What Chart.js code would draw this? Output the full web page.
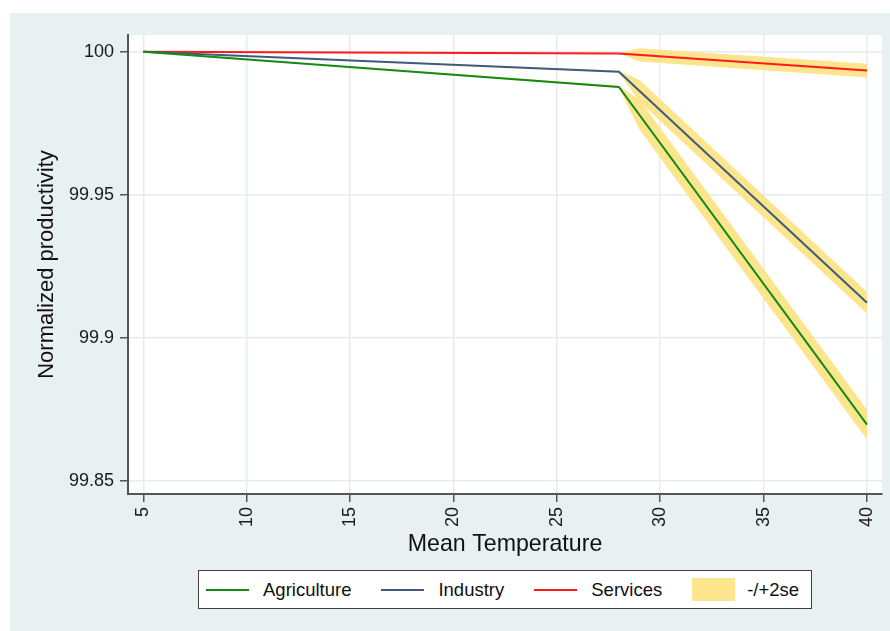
<!DOCTYPE html>
<html>
<head>
<meta charset="utf-8">
<script src="https://cdn.jsdelivr.net/npm/chart.js@4/dist/chart.umd.min.js"></script>
<style>
  html, body { margin: 0; padding: 0; background: #ffffff; }
  #wrap { position: relative; width: 890px; height: 631px; }
  #c { position: absolute; left: 0; top: 0; }
  #legend {
    position: absolute; left: 198px; top: 570px; width: 614px; height: 39px;
    box-sizing: border-box; border: 1.5px solid #404040; background: #ffffff;
    display: flex; align-items: center; padding-left: 7px; gap: 30px;
    font-family: "Liberation Sans", Arial, sans-serif; font-size: 18.5px; color: #111111;
  }
  .item { display: flex; align-items: center; }
  .key { width: 43px; margin-right: 14px; }
  .key.line { height: 2px; }
  .key.area { height: 23px; margin-right: 12px; }
</style>
</head>
<body>
<div id="wrap">
  <canvas id="c" width="890" height="631"></canvas>
  <div id="legend"></div>
</div>
<script>
// Mean temperature (°C) at the start, the kink and the end of each response curve
const lineTemps = [5, 28, 40];
const agriculture = [100, 99.9877, 99.8696];
const industry = [100, 99.9930, 99.9122];
const services = [100, 99.9994, 99.9934];

// -/+2se confidence band, evaluated at these temperatures
const bandTemps = [5, 28, 29, 40];
const agricultureUpper = [100, 99.9881, 99.9831, 99.8748];
const agricultureLower = [100, 99.9873, 99.9727, 99.8644];
const industryUpper = [100, 99.9933, 99.9901, 99.9160];
const industryLower = [100, 99.9927, 99.9825, 99.9084];
const servicesUpper = [100, 99.9994, 100.0012, 99.9958];
const servicesLower = [100, 99.9994, 99.9966, 99.9910];

// Axis ticks
const xTicks = [5, 10, 15, 20, 25, 30, 35, 40];
const yTicks = [99.85, 99.9, 99.95, 100];

const seriesNames = ['Agriculture', 'Industry', 'Services'];
const seriesColors = ['#138a13', '#3f5b7b', '#ff1a1a'];
const bandName = '-/+2se';
const bandColor = '#fce58c';

const pts = (xs, ys) => xs.map((x, i) => ({ x: x, y: ys[i] }));

Chart.defaults.font.family = '"Liberation Sans", Arial, sans-serif';
Chart.defaults.color = '#1a1a1a';

const lineSet = (label, values, color) => ({
  label: label,
  data: pts(lineTemps, values),
  borderColor: color,
  borderWidth: 2,
  pointRadius: 0,
  fill: false,
  order: 0
});
const bandSet = (values, fillTarget) => ({
  label: bandName,
  data: pts(bandTemps, values),
  borderColor: 'rgba(0,0,0,0)',
  backgroundColor: bandColor,
  borderWidth: 0,
  pointRadius: 0,
  fill: fillTarget,
  order: 1
});

const datasets = [
  lineSet(seriesNames[0], agriculture, seriesColors[0]),
  lineSet(seriesNames[1], industry, seriesColors[1]),
  lineSet(seriesNames[2], services, seriesColors[2]),
  bandSet(agricultureUpper, '+1'),
  bandSet(agricultureLower, false),
  bandSet(industryUpper, '+1'),
  bandSet(industryLower, false),
  bandSet(servicesUpper, '+1'),
  bandSet(servicesLower, false)
];

// Light bluish page behind the white plot region
const backdrop = {
  id: 'backdrop',
  beforeDraw(chart) {
    const { ctx, chartArea: a, width, height } = chart;
    ctx.save();
    ctx.fillStyle = '#ffffff';
    ctx.fillRect(0, 0, width, height);
    ctx.fillStyle = '#e9f0f2';
    ctx.fillRect(10, 13, width - 10, height - 13);
    ctx.fillStyle = '#ffffff';
    ctx.fillRect(a.left, a.top, a.right - a.left, a.bottom - a.top);
    ctx.restore();
  }
};

const gridColor = '#e4ecef';
const axisColor = '#555555';
const numLabel = v => String(Number(Number(v).toFixed(4)));

new Chart(document.getElementById('c'), {
  type: 'line',
  data: { datasets: datasets },
  options: {
    responsive: false,
    animation: false,
    layout: { padding: { left: 0, top: 35, right: 8, bottom: 75 } },
    plugins: { legend: { display: false }, tooltip: { enabled: false } },
    elements: { line: { tension: 0 } },
    scales: {
      x: {
        type: 'linear',
        min: 4.26,
        max: 40.725,
        afterBuildTicks: s => { s.ticks = xTicks.map(v => ({ value: v })); },
        afterFit: s => { s.height = 62; s.paddingLeft = 0; s.paddingRight = 0; },
        ticks: {
          minRotation: 90, maxRotation: 90, padding: 5,
          font: { size: 18 }, color: '#1a1a1a',
          callback: numLabel
        },
        grid: { color: gridColor, lineWidth: 1.5, tickLength: 8, tickColor: axisColor, tickWidth: 1.5 },
        border: { display: true, color: axisColor, width: 2 },
        title: {
          display: true, text: 'Mean Temperature', color: '#111111',
          font: { size: 23.2, lineHeight: 1 }, padding: { top: 0, bottom: 0 }
        }
      },
      y: {
        type: 'linear',
        min: 99.84535,
        max: 100.00584,
        afterBuildTicks: s => { s.ticks = yTicks.map(v => ({ value: v })); },
        afterFit: s => { s.width = 128; s.paddingTop = 0; s.paddingBottom = 0; },
        ticks: {
          padding: 6, font: { size: 18 }, color: '#1a1a1a',
          callback: numLabel
        },
        grid: { color: gridColor, lineWidth: 1.5, tickLength: 8, tickColor: axisColor, tickWidth: 1.5 },
        border: { display: true, color: axisColor, width: 2 },
        title: {
          display: true, text: 'Normalized productivity', color: '#111111',
          font: { size: 22, lineHeight: 1 }, padding: { top: 36, bottom: 0 }
        }
      }
    }
  },
  plugins: [backdrop]
});

// Legend row below the plot
const legend = document.getElementById('legend');
const addItem = (cls, color, text) => {
  const item = document.createElement('div');
  item.className = 'item';
  const key = document.createElement('span');
  key.className = 'key ' + cls;
  key.style.background = color;
  const label = document.createElement('span');
  label.textContent = text;
  item.appendChild(key);
  item.appendChild(label);
  legend.appendChild(item);
};
seriesNames.forEach((n, i) => addItem('line', seriesColors[i], n));
addItem('area', bandColor, bandName);
</script>
</body>
</html>
